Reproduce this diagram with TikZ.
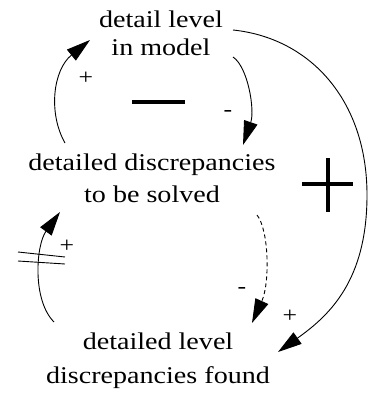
\documentclass[tikz,border=0pt]{standalone}
\usepackage{fontspec}
\newfontfamily\diagfont[FakeStretch=1.17]{Liberation Serif}
\usetikzlibrary{arrows.meta}
\tikzset{
  var/.style={font=\diagfont\fontsize{24}{#1}\selectfont,align=center,
              inner sep=2pt,anchor=base},
  var/.default=30,
  link/.style={-{Triangle[length=24pt,width=14pt]},line width=0.9pt},
  dashlink/.style={link,dash pattern=on 4pt off 3pt},
  sign/.style={font=\diagfont\fontsize{22}{22}\selectfont,inner sep=0pt},
  loopsign/.style={line width=3.5pt},
}

\begin{document}
\begin{tikzpicture}[x=1pt,y=-1pt]
  \useasboundingbox (0,0) rectangle (368,393);

  % variables (placed by the baseline of their last line)
  \node[var=28] (model) at (161,56)  {detail level\\in model};
  \node[var=32] (disc)  at (152,202) {detailed discrepancies\\to be solved};
  \node[var=34] (found) at (158,383) {detailed level\\discrepancies found};

  % causal links
  \draw[link] ([shift={(-87,-59)}]disc.base) .. controls +(-17,-30) and +(-37,30) .. ([shift={(-71,-16)}]model.base);
  \draw[link] ([shift={(72,1)}]model.base) .. controls +(15,10) and +(12,-35) .. ([shift={(91,-57)}]disc.base);
  \draw[link] ([shift={(72,-26)}]model.base) .. controls +(77,8) and +(0,-95) .. (367,195)
                                             .. controls +(0,85) and +(52,-37) .. ([shift={(120,-31)}]found.base);
  \draw[dashlink] ([shift={(105,13)}]disc.base) .. controls +(12,15) and +(18,-40) .. ([shift={(94,-60)}]found.base);
  \draw[link] ([shift={(-104,-61)}]found.base) .. controls +(-22,-22) and +(-24,33) .. ([shift={(-92,10)}]disc.base);

  % delay mark
  \draw[line width=0.9pt] (18,252) -- (65,257) (18,261) -- (65,264);

  % link polarities
  \node[sign] (p1) at (86,78)   {+};
  \node[sign] (m2) at (228,113) {-};
  \node[sign] (p3) at (290,316) {+};
  \node[sign] (m4) at (242,290) {-};
  \node[sign] (p5) at (67,246)  {+};

  % loop polarities
  \draw[loopsign] (132,102) -- (185,102);
  \draw[loopsign] (302,184) -- (353,184) (328,158) -- (328,212);
\end{tikzpicture}
\end{document}
